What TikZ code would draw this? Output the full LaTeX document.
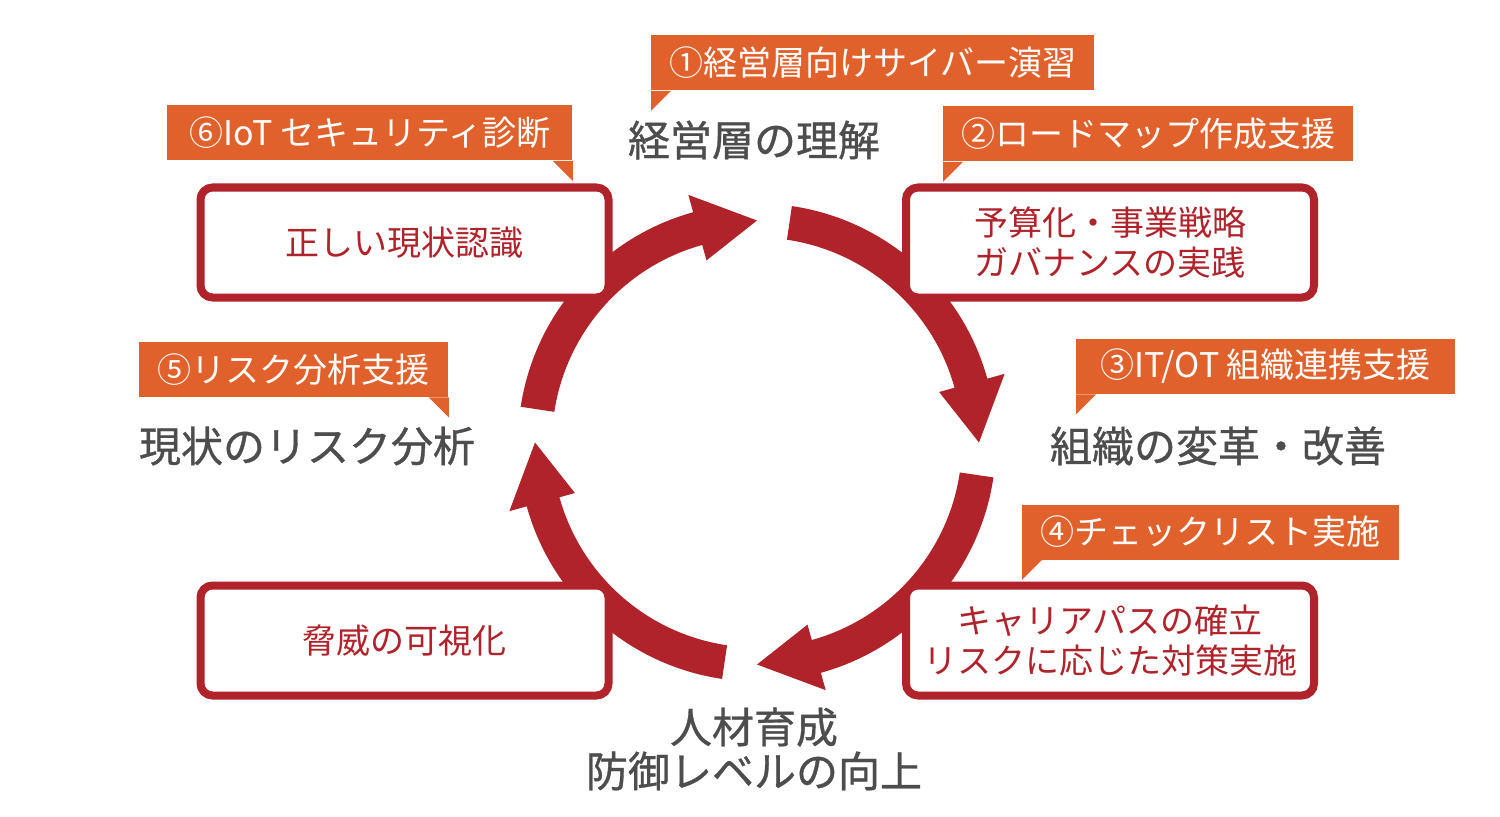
\documentclass[tikz,border=0pt]{standalone}
\usepackage{fontspec}
\setmainfont{Noto Sans CJK JP}
\newfontfamily\stagefont[FakeBold=0.8]{Noto Sans CJK JP}
\definecolor{ringred}{HTML}{B0232B}
\definecolor{tagorange}{HTML}{E0612B}
\definecolor{labelgray}{HTML}{4D4D4D}

\begin{document}
\begin{tikzpicture}[x=0.5pt, y=0.5pt]
	\tikzset{stage/.style={text=labelgray, font=\stagefont\fontsize{21}{22}\selectfont, align=center, inner sep=0pt}}
	\tikzset{tag/.style={fill=tagorange, text=white, font=\fontsize{17}{20}\selectfont, anchor=west, inner xsep=0pt, inner ysep=0pt, minimum height=27.5pt}}
	\tikzset{goal/.style={draw=ringred, line width=4pt, fill=white, rounded corners=6pt, text=ringred, font=\fontsize{17}{20}\selectfont, align=center, minimum width=204pt, minimum height=55pt, inner sep=0pt}}

	\fill[white] (0,0) rectangle (1500,816);
	\useasboundingbox (0,0) rectangle (1500,816);

	% ring of four arrows
	\begin{scope}[shift={(757,373.5)}]
		\foreach \tail/\tip [evaluate=\tip as \base using \tip+15.5] in {171.4/90, 81.6/0, -8.4/-90, -98.4/-180}
			\fill[ringred] (\tail:239) arc[start angle=\tail, end angle=\base, radius=239]
				-- (\base:257) -- (\tip:222) -- (\base:189) -- (\base:205)
				arc[start angle=\base, end angle=\tail, radius=205] -- cycle;
	\end{scope}

	\node[goal] (recognize) at (404.5,573.5) {正しい現状認識};
	\node[goal] (budget) at (1110,573.5) {予算化・事業戦略\\ガバナンスの実践};
	\node[goal] (visualize) at (404.5,175.5) {脅威の可視化};
	\node[goal] (career) at (1110,175.5) {キャリアパスの確立\\リスクに応じた対策実施};

	\node[stage] (exec) at (754,676) {経営層の理解};
	\node[stage] (org) at (1218,370) {組織の変革・改善};
	\node[stage] (people) at (754,67) {人材育成\\防御レベルの向上};
	\node[stage] (current) at (307,370) {現状のリスク分析};

	% tags
	\node[tag, minimum width=221.5pt] (drill) at (651,753) {①経営層向けサイバー演習};
	\fill[tagorange] (drill.south west) -- ++(20,0) -- ++(-20,-20) -- cycle;
	\node[tag, minimum width=205pt] (roadmap) at (943,682) {②ロードマップ作成支援};
	\fill[tagorange] (roadmap.south west) -- ++(20,0) -- ++(-20,-20) -- cycle;
	\node[tag, minimum width=189.5pt] (itot) at (1076,449.5) {③IT/OT 組織連携支援};
	\fill[tagorange] (itot.south west) -- ++(20,0) -- ++(-20,-20) -- cycle;
	\node[tag, minimum width=188.5pt] (check) at (1022,284) {④チェックリスト実施};
	\fill[tagorange] (check.south west) -- ++(20,0) -- ++(-20,-20) -- cycle;
	\node[tag, minimum width=154.5pt] (riskana) at (139,446.5) {⑤リスク分析支援};
	\fill[tagorange] (riskana.south east) -- ++(-20,0) -- ++(20,-20) -- cycle;
	\node[tag, minimum width=202.5pt] (iotdiag) at (167,683) {⑥IoT セキュリティ診断};
	\fill[tagorange] (iotdiag.south east) -- ++(-20,0) -- ++(20,-20) -- cycle;
\end{tikzpicture}
\end{document}
